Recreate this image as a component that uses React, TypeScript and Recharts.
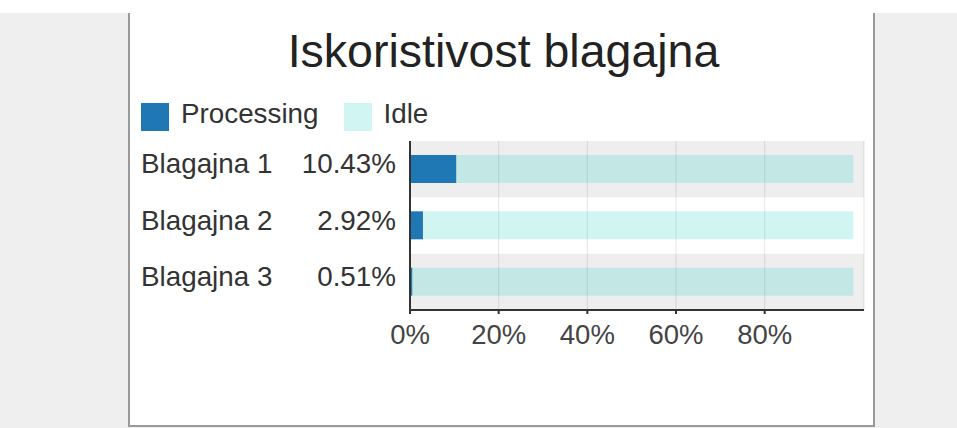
import React from 'react';
import { BarChart, Bar, XAxis, YAxis, CartesianGrid, ReferenceArea } from 'recharts';

const cashiers = ['Blagajna 1', 'Blagajna 2', 'Blagajna 3'];
const processing = [10.43, 2.92, 0.51];
const idle = [89.57, 97.08, 99.49];
const xTicks = [0, 20, 40, 60, 80];

const FONT = '"Liberation Sans", Arial, sans-serif';
const BLUE = '#1f77b4';
const IDLE = 'rgb(0, 200, 189)';

const data = cashiers.map((name, i) => ({ name, processing: processing[i], idle: idle[i] }));

// two columns per row: cashier name on the left, processing share right-aligned next to the axis
function CashierTick({ y, payload }: any) {
  const i = cashiers.indexOf(payload.value);
  return (
    <g>
      <text x={11} y={y} dy={4} textAnchor="start" fill="#333" fontSize={27.8} fontFamily={FONT}>
        {payload.value}
      </text>
      <text x={266} y={y} dy={4} textAnchor="end" fill="#333" fontSize={27.8} fontFamily={FONT}>
        {processing[i].toFixed(2)}%
      </text>
    </g>
  );
}

function LegendItem({ color, opacity, label }: { color: string; opacity: number; label: string }) {
  return (
    <div style={{ display: 'flex', alignItems: 'center', marginRight: 25 }}>
      <div style={{ width: 28, height: 28, background: color, opacity }} />
      <span style={{ marginLeft: 12, fontSize: 27.8, color: '#333', position: 'relative', top: -3 }}>{label}</span>
    </div>
  );
}

export default function App() {
  return (
    <div style={{ position: 'fixed', left: 0, top: 0, width: 957, height: 428, background: '#efefef', fontFamily: FONT }}>
      <div style={{ position: 'absolute', left: 0, top: 0, width: 957, height: 13, background: '#fff' }} />
      <div
        style={{
          position: 'absolute',
          left: 128,
          top: 13,
          width: 747,
          height: 414,
          boxSizing: 'border-box',
          background: '#fff',
          borderLeft: '2px solid #9a9a9a',
          borderRight: '2px solid #9a9a9a',
          borderBottom: '2px solid #9a9a9a',
        }}
      >
        <div
          style={{
            position: 'absolute',
            left: 2,
            top: 15,
            width: '100%',
            textAlign: 'center',
            fontSize: 46.5,
            lineHeight: '46px',
            color: '#222',
          }}
        >
          Iskoristivost blagajna
        </div>

        <div style={{ position: 'absolute', left: 11, top: 88, display: 'flex' }}>
          <LegendItem color={BLUE} opacity={1} label="Processing" />
          <LegendItem color={IDLE} opacity={0.18} label="Idle" />
        </div>

        <div style={{ position: 'absolute', left: 0, top: 0 }}>
          <BarChart
            width={743}
            height={360}
            data={data}
            layout="vertical"
            margin={{ top: 128, right: 9, bottom: 23, left: 0 }}
            barSize={28}
          >
            {cashiers
              .filter((_, i) => i % 2 === 0)
              .map((c) => (
                <ReferenceArea key={c} y1={c} y2={c} fill="#000" fillOpacity={0.067} strokeOpacity={0} ifOverflow="visible" />
              ))}
            <CartesianGrid horizontal={false} stroke="#000" strokeOpacity={0.1} />
            <XAxis
              type="number"
              domain={[0, 102.4]}
              ticks={xTicks}
              tickFormatter={(v) => `${v}%`}
              stroke="#333"
              strokeWidth={2}
              tickSize={4}
              tickMargin={10}
              height={40}
              tick={{ fill: '#444', fontSize: 27.5, fontFamily: FONT }}
            />
            <YAxis
              type="category"
              dataKey="name"
              width={280}
              stroke="#333"
              strokeWidth={2}
              tickLine={false}
              tick={<CashierTick />}
            />
            <Bar dataKey="processing" stackId="a" fill={BLUE} isAnimationActive={false} />
            <Bar dataKey="idle" stackId="a" fill={IDLE} fillOpacity={0.18} isAnimationActive={false} />
          </BarChart>
        </div>
      </div>
    </div>
  );
}
